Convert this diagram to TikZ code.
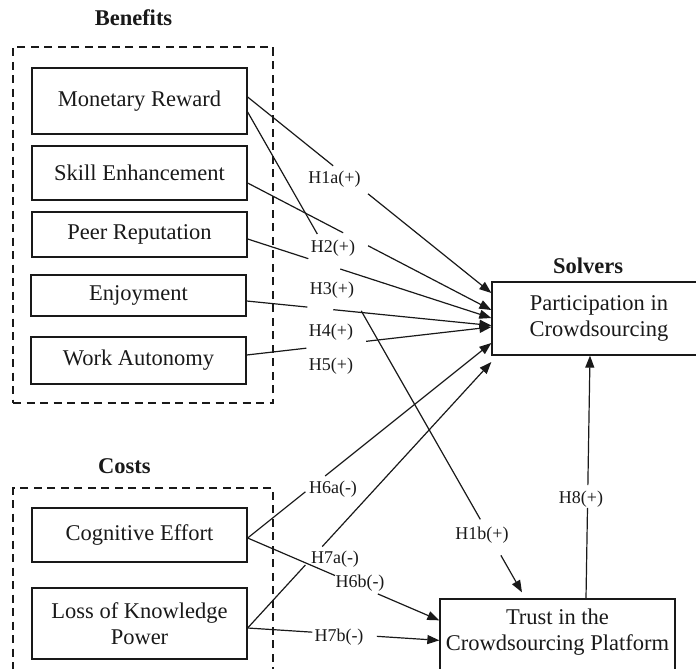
\documentclass[tikz,border=0pt]{standalone}
\usepackage{fontspec}
\setmainfont{Liberation Serif}
\usetikzlibrary{arrows.meta,calc}
\begin{document}
\begin{tikzpicture}[x=1pt,y=-1pt,
  box/.style={draw=black!90, line width=1.3pt, align=center, inner sep=0pt,
    font=\fontsize{22.5}{26.5}\selectfont, text=black!90},
  boxtext/.style={align=center, inner sep=0pt,
    font=\fontsize{22.5}{26.5}\selectfont, text=black!90},
  frame/.style={draw=black!90, line width=1.9pt, dash pattern=on 8pt off 5.5pt, inner sep=0pt},
  head/.style={font=\fontsize{22.5}{26.5}\selectfont\bfseries, text=black!90, inner sep=0pt},
  hyp/.style={font=\fontsize{18}{20}\selectfont, text=black!90, inner sep=0pt},
  conn/.style={line width=1.2pt, draw=black!90},
  arr/.style={conn, -{Triangle[length=12pt,width=9pt]}},
]
\useasboundingbox (0,0) rectangle (696,669);

% group frames
\node[frame, minimum width=260pt, minimum height=356pt] (bframe) at (143,225) {};
\node[frame, minimum width=260pt, minimum height=224pt] (cframe) at (143,600) {};

% headings
\node[head] (benefits) at (133.5,18) {Benefits};
\node[head] (costs) at (124.5,466) {Costs};
\node[head] (solvers) at (588,266) {Solvers};

% construct boxes
\node[box, minimum width=215pt, minimum height=66pt] (mr) at (139.5,101) {Monetary Reward};
\node[box, minimum width=215pt, minimum height=54pt] (se) at (139.5,173) {Skill Enhancement};
\node[box, minimum width=215pt, minimum height=45pt] (pr) at (139.5,234.5) {Peer Reputation};
\node[box, minimum width=215pt, minimum height=41pt] (en) at (138.5,295.5) {Enjoyment};
\node[box, minimum width=215pt, minimum height=47pt] (wa) at (138.5,360.5) {Work Autonomy};
\node[box, minimum width=215pt, minimum height=54pt] (ce) at (139.5,535) {Cognitive Effort};
\node[box, minimum width=215pt, minimum height=71pt] (lkp) at (139.5,623.5) {Loss of Knowledge\\Power};
\node[box, minimum width=214pt, minimum height=73pt] (pc) at (599,318.5) {Participation in\\Crowdsourcing};
\node[box, minimum width=235pt, minimum height=101pt] (tr) at (557.5,649.5) {};
\node[boxtext] (trtext) at ([yshift=-33.7pt]tr.north) {Trust in the\\Crowdsourcing Platform};

% hypothesis labels
\node[hyp] (h1a) at (334.5,179) {H1a(+)};
\node[hyp] (h2) at (333,248) {H2(+)};
\node[hyp] (h3) at (332,290) {H3(+)};
\node[hyp] (h4) at (331,332) {H4(+)};
\node[hyp] (h5) at (331,366) {H5(+)};
\node[hyp] (h6a) at (333,489) {H6a(-)};
\node[hyp] (h7a) at (335,559) {H7a(-)};
\node[hyp] (h6b) at (360,583) {H6b(-)};
\node[hyp] (h7b) at (339,637) {H7b(-)};
\node[hyp] (h1b) at (482,535) {H1b(+)};
\node[hyp] (h8) at (581,499) {H8(+)};

% connector end points
\coordinate (mrA) at ([yshift=4pt]mr.east);
\coordinate (mrB) at ([yshift=-11pt]mr.east);
\coordinate (seA) at ([yshift=-10pt]se.east);
\coordinate (prA) at ([yshift=-4.5pt]pr.east);
\coordinate (enA) at ([yshift=-5.5pt]en.east);
\coordinate (waA) at ([yshift=5.5pt]wa.east);
\coordinate (ceA) at ([yshift=-3pt]ce.east);
\coordinate (lkA) at ([yshift=-4.5pt]lkp.east);
\coordinate (pc1) at ([yshift=25.5pt]pc.west);
\coordinate (pc2) at ([yshift=8.5pt]pc.west);
\coordinate (pc3) at ([yshift=0.5pt]pc.west);
\coordinate (pc4) at ([yshift=-7pt]pc.west);
\coordinate (pc5) at ([yshift=-8.5pt]pc.west);
\coordinate (pc6) at ([yshift=-24.5pt]pc.west);
\coordinate (pc7) at ([yshift=-43.5pt]pc.west);
\coordinate (pcB) at ([xshift=-9pt]pc.south);
\coordinate (trA) at ([xshift=-35.5pt,yshift=6pt]tr.north);
\coordinate (tr1) at ([yshift=-22pt]tr.north west);
\coordinate (tr2) at ([yshift=-42pt]tr.north west);
\coordinate (trB) at ([xshift=28.5pt]tr.north);

% H1a: Monetary Reward -> Participation
\draw[conn] (mrA) -- ($(mrA)!0.351!(pc1)$);
\draw[arr] ($(mrA)!0.494!(pc1)$) -- (pc1);
% H1b: Monetary Reward -> Trust
\draw[conn] (mrB) -- ($(mrB)!0.254!(trA)$);
\draw[conn] ($(mrB)!0.414!(trA)$) -- ($(mrB)!0.848!(trA)$);
\draw[arr] ($(mrB)!0.923!(trA)$) -- (trA);
% H2: Skill Enhancement -> Participation
\draw[conn] (seA) -- ($(seA)!0.392!(pc2)$);
\draw[arr] ($(seA)!0.494!(pc2)$) -- (pc2);
% H3: Peer Reputation -> Participation
\draw[conn] (prA) -- ($(prA)!0.249!(pc3)$);
\draw[arr] ($(prA)!0.380!(pc3)$) -- (pc3);
% H4: Enjoyment -> Participation
\draw[conn] (enA) -- ($(enA)!0.248!(pc4)$);
\draw[arr] ($(enA)!0.354!(pc4)$) -- (pc4);
% H5: Work Autonomy -> Participation
\draw[conn] (waA) -- ($(waA)!0.244!(pc5)$);
\draw[arr] ($(waA)!0.488!(pc5)$) -- (pc5);
% H6a: Cognitive Effort -> Participation
\draw[conn] (ceA) -- ($(ceA)!0.237!(pc6)$);
\draw[arr] ($(ceA)!0.318!(pc6)$) -- (pc6);
% H7a: Loss of Knowledge Power -> Participation
\draw[conn] (lkA) -- ($(lkA)!0.237!(pc7)$);
\draw[arr] ($(lkA)!0.306!(pc7)$) -- (pc7);
% H6b: Cognitive Effort -> Trust
\draw[conn] (ceA) -- ($(ceA)!0.456!(tr1)$);
\draw[arr] ($(ceA)!0.679!(tr1)$) -- (tr1);
% H7b: Loss of Knowledge Power -> Trust
\draw[conn] (lkA) -- ($(lkA)!0.337!(tr2)$);
\draw[arr] ($(lkA)!0.674!(tr2)$) -- (tr2);
% H8: Trust -> Participation
\draw[conn] (trB) -- ($(trB)!0.373!(pcB)$);
\draw[arr] ($(trB)!0.467!(pcB)$) -- (pcB);
\end{tikzpicture}
\end{document}
